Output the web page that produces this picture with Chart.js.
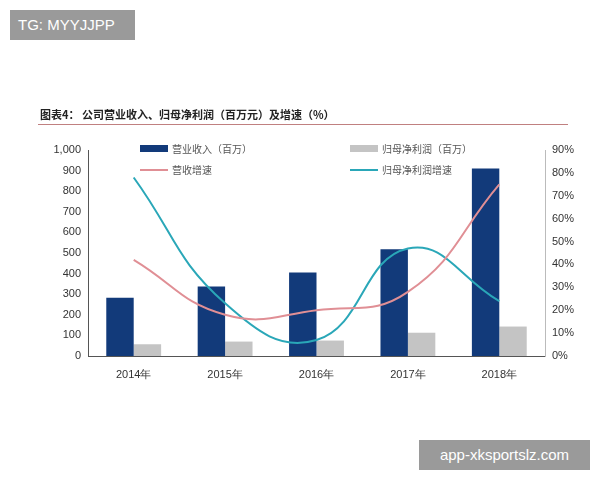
<!DOCTYPE html>
<html><head><meta charset="utf-8">
<script src="https://cdn.jsdelivr.net/npm/chart.js@4"></script>
<style>
body{margin:0;width:600px;height:480px;background:#fff;position:relative;overflow:hidden;font-family:"Noto Sans CJK SC","Liberation Sans",sans-serif}
#c{position:absolute;left:0;top:0}
.tag{position:absolute;background:#9a9a9a;color:#fff;font-family:"Liberation Sans",Arial,sans-serif;font-size:15px}
.title{position:absolute;left:40px;top:106px;font-size:11px;font-weight:bold;color:#222}
.rule{position:absolute;left:38px;top:124px;width:530px;height:1px;background:#c08080}
.lg{position:absolute;font-size:10px;color:#555;display:flex;align-items:center}
.lg i{display:inline-block;margin-right:4px}
</style></head><body>
<canvas id="c" width="600" height="480"></canvas>
<div class="tag" style="left:10px;top:10px;width:125px;height:30px;line-height:30px;text-indent:8px">TG: MYYJJPP</div>
<div class="tag" style="left:419px;top:440px;width:171px;height:30px;line-height:30px;text-align:center">app-xksportslz.com</div>
<div class="title">图表4： 公司营业收入、归母净利润（百万元）及增速（%）</div>
<div class="rule"></div>
<div class="lg" style="left:140px;top:141px"><i style="width:28px;height:7px;background:#123a7a"></i>营业收入（百万）</div>
<div class="lg" style="left:350px;top:141px"><i style="width:28px;height:7px;background:#c4c4c4"></i>归母净利润（百万）</div>
<div class="lg" style="left:140px;top:162px"><i style="width:28px;height:2px;background:#e08f95"></i>营收增速</div>
<div class="lg" style="left:350px;top:162px"><i style="width:28px;height:2px;background:#2aa7b8"></i>归母净利润增速</div>
<script>
const categories=["2014年","2015年","2016年","2017年","2018年"];
const revenue=[283,337,405,518,910];
const netProfit=[57,70,75,113,143];
const revenueGrowth=[42,18,20,28,75];
const profitGrowth=[78,23,7,47,24];
const ds=[
{type:'line',data:revenueGrowth,yAxisID:'y2',borderColor:'#e08f95',borderWidth:2,tension:0.45,pointRadius:0,order:0},
{type:'line',data:profitGrowth,yAxisID:'y2',borderColor:'#2aa7b8',borderWidth:2,tension:0.45,pointRadius:0,order:0},
{type:'bar',data:revenue,yAxisID:'y',backgroundColor:'#123a7a',categoryPercentage:0.6,barPercentage:1,order:1},
{type:'bar',data:netProfit,yAxisID:'y',backgroundColor:'#c4c4c4',categoryPercentage:0.6,barPercentage:1,order:1}];
const tf={family:"Liberation Sans",size:11};
new Chart(document.getElementById('c'),{data:{labels:categories,datasets:ds},
options:{responsive:false,animation:false,
layout:{padding:{left:30,top:150,right:20,bottom:95}},
plugins:{legend:{display:false},tooltip:{enabled:false}},
scales:{
x:{offset:true,grid:{display:false,drawTicks:true},border:{color:'#555'},ticks:{color:'#333',font:tf,padding:4},afterFit:s=>{s.height=29}},
y:{position:'left',min:0,max:1000,ticks:{stepSize:100,color:'#333',font:tf,callback:v=>v.toLocaleString('en-US')},grid:{display:false,drawTicks:true,tickLength:4},border:{color:'#555'},afterFit:s=>{s.width=58}},
y2:{position:'right',min:0,max:90,ticks:{stepSize:10,color:'#333',font:tf,callback:v=>v+'%'},grid:{display:false,tickLength:4},border:{color:'#bbb'},afterFit:s=>{s.width=35}}
}}});
</script></body></html>
